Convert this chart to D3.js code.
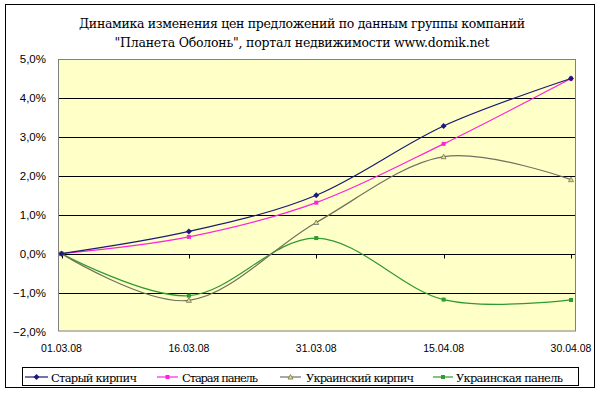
<!DOCTYPE html>
<html><head><meta charset="utf-8">
<script src="https://cdn.jsdelivr.net/npm/d3@7"></script>
<style>body{margin:0;background:#fff}svg{display:block}
.serif{font-family:"DejaVu Serif","Liberation Serif","Times New Roman",serif}
.sans{font-family:"Liberation Sans",Arial,sans-serif}</style>
</head><body>
<svg id="c" width="600" height="393"></svg>
<script>
const categories = ["01.03.08","16.03.08","31.03.08","15.04.08","30.04.08"];
const seriesNames = ["Старый кирпич","Старая панель","Украинский кирпич","Украинская панель"];
const oldBrick   = [0, 0.57, 1.5, 3.28, 4.5];
const oldPanel   = [0, 0.43, 1.31, 2.82, 4.5];
const ukrBrick   = [0, -1.2, 0.8, 2.49, 1.9];
const ukrPanel   = [0, -1.08, 0.4, -1.18, -1.19];
const yTicks = [-2,-1,0,1,2,3,4,5];
const titleLines = ["Динамика изменения цен предложений по данным группы компаний",
                    "\"Планета Оболонь\",  портал недвижимости www.domik.net"];

const colors = ["#1a1a78","#ff22dd","#707060","#2f9a2f"];
const markers = ["diamond","square","triangle","square"];
const data = [oldBrick, oldPanel, ukrBrick, ukrPanel];

const svg = d3.select("#c");
svg.append("rect").attr("x",5.5).attr("y",4.5).attr("width",589).attr("height",383)
  .attr("fill","#fff").attr("stroke","#000");

// title
const tw = [446, 375];
titleLines.forEach((t,i)=>{
  svg.append("text").attr("class","serif").attr("x",302).attr("y",28+i*19).attr("text-anchor","middle")
    .attr("font-size",12.5).attr("fill","#000")
    .attr("textLength",tw[i]).attr("lengthAdjust","spacing").text(t);
});

const pl=58, pr=576, pt=59, pb=331.5;
const x = d3.scaleLinear().domain([0,categories.length-1]).range([61.5,571]);
const y = d3.scaleLinear().domain([-2,5]).range([pb,pt]);

svg.append("rect").attr("x",pl).attr("y",pt).attr("width",pr-pl).attr("height",pb-pt)
  .attr("fill","#ffffc8");
// grid
svg.append("g").selectAll("line").data(yTicks.filter(v=>v>-2&&v<5)).join("line")
  .attr("x1",pl).attr("x2",pr).attr("y1",d=>Math.round(y(d))+0.5).attr("y2",d=>Math.round(y(d))+0.5)
  .attr("stroke","#000").attr("stroke-width",1);
svg.append("rect").attr("x",pl+0.5).attr("y",pt+0.5).attr("width",pr-pl-1).attr("height",pb-pt-1)
  .attr("fill","none").attr("stroke","#808080");
// x ticks on zero line
const y0 = Math.round(y(0))+0.5;
svg.append("g").selectAll("line").data(categories).join("line")
  .attr("x1",(d,i)=>Math.round(x(i))+0.5).attr("x2",(d,i)=>Math.round(x(i))+0.5)
  .attr("y1",y0).attr("y2",y0+4).attr("stroke","#000");

// y labels
svg.append("g").selectAll("text").data(yTicks).join("text").attr("class","sans")
  .attr("x",46).attr("y",d=>y(d)+4).attr("text-anchor","end")
  .attr("font-size",11.5).attr("fill","#000")
  .text(d=>d3.format(".1f")(d).replace(".",",")+"%");
// x labels
svg.append("g").selectAll("text").data(categories).join("text").attr("class","sans")
  .attr("x",(d,i)=>x(i)).attr("y",352).attr("text-anchor","middle")
  .attr("font-size",10.5).attr("fill","#000")
  .text(d=>d);

function marker(g, type, cx, cy, col){
  if(type==="diamond"){
    g.append("path").attr("d",`M${cx},${cy-3}L${cx+3},${cy}L${cx},${cy+3}L${cx-3},${cy}Z`).attr("fill",col);
  } else if(type==="square"){
    g.append("rect").attr("x",cx-2).attr("y",cy-2).attr("width",4).attr("height",4).attr("fill",col);
  } else {
    g.append("path").attr("d",`M${cx},${cy-2.5}L${cx+2.5},${cy+2}L${cx-2.5},${cy+2}Z`)
      .attr("fill","#e8e070").attr("stroke",col).attr("stroke-width",0.8);
  }
}

const line = d3.line().x((d,i)=>x(i)).y(d=>y(d)).curve(d3.curveCardinal.tension(0));
const order=[3,2,1,0];
order.forEach(s=>{
  const g = svg.append("g");
  g.append("path").attr("d",line(data[s])).attr("fill","none").attr("stroke",colors[s]).attr("stroke-width",1.2);
  data[s].forEach((v,i)=>marker(g, markers[s], x(i), y(v), colors[s]));
});

// legend
svg.append("rect").attr("x",22.5).attr("y",367.5).attr("width",556).attr("height",18)
  .attr("fill","#fff").attr("stroke","#000");
const lx = [[25,48,51,86],[157,178,182,76],[280,301,306,108],[433,453,456,107]];
seriesNames.forEach((n,s)=>{
  const g = svg.append("g");
  g.append("line").attr("x1",lx[s][0]).attr("x2",lx[s][1]).attr("y1",377).attr("y2",377)
    .attr("stroke",colors[s]).attr("stroke-width",1.2);
  marker(g, markers[s], (lx[s][0]+lx[s][1])/2, 377, colors[s]);
  g.append("text").attr("class","serif").attr("x",lx[s][2]).attr("y",381.5)
    .attr("font-size",11.5).attr("fill","#000").attr("textLength",lx[s][3]).attr("lengthAdjust","spacing").text(n);
});
</script>
</body></html>
